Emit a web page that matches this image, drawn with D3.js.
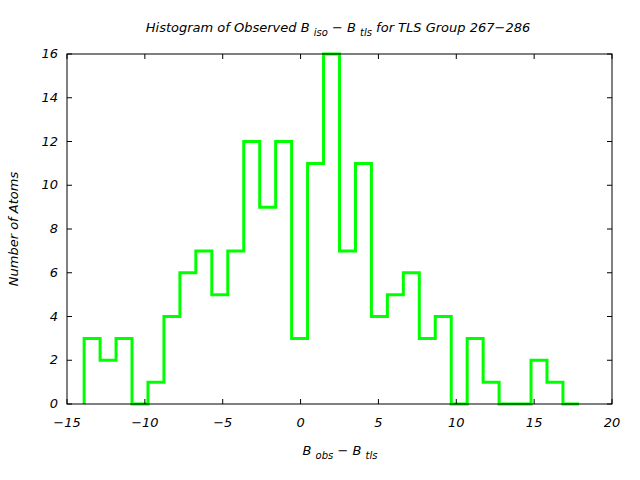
<!DOCTYPE html>
<html><head><meta charset="utf-8">
<script src="https://cdn.jsdelivr.net/npm/d3@7"></script>
<style>body{margin:0;background:#fff;} text{font-family:"DejaVu Sans",sans-serif;font-style:italic;font-size:13px;fill:#000;}</style>
</head><body>
<svg id="c" width="640" height="480"></svg>
<script>
const binStart = -13.9;
const binWidth = 1.025;
const counts = [3,2,3,0,1,4,6,7,5,7,12,9,12,3,11,16,7,11,4,5,6,3,4,0,3,1,0,0,2,1,0];
const xTicks = [-15,-10,-5,0,5,10,15,20];
const yTicks = [0,2,4,6,8,10,12,14,16];

const svg = d3.select("#c");
const L=67, R=612, T=54, B=404;
const x = d3.scaleLinear().domain([-15,20]).range([L,R]);
const y = d3.scaleLinear().domain([0,16]).range([B,T]);

svg.append("rect").attr("x",0).attr("y",0).attr("width",640).attr("height",480).attr("fill","#fff");

const pts = [];
pts.push([binStart,0]);
counts.forEach((c,i)=>{ const a=binStart+i*binWidth, b=a+binWidth; pts.push([a,c]); pts.push([b,c]); });
pts.push([binStart+counts.length*binWidth,0]);
svg.append("path").attr("d", d3.line().x(d=>x(d[0])).y(d=>y(d[1]))(pts))
  .attr("fill","none").attr("stroke","#00ff00").attr("stroke-width",3).attr("stroke-linejoin","miter");

const tl=5;
const g = svg.append("g").attr("stroke","#000").attr("stroke-width",1);
xTicks.forEach(v=>{
  g.append("line").attr("x1",x(v)).attr("x2",x(v)).attr("y1",B).attr("y2",B-tl);
  g.append("line").attr("x1",x(v)).attr("x2",x(v)).attr("y1",T).attr("y2",T+tl);
});
yTicks.forEach(v=>{
  g.append("line").attr("x1",L).attr("x2",L+tl).attr("y1",y(v)).attr("y2",y(v));
  g.append("line").attr("x1",R).attr("x2",R-tl).attr("y1",y(v)).attr("y2",y(v));
});
svg.append("rect").attr("x",L).attr("y",T).attr("width",R-L).attr("height",B-T)
  .attr("fill","none").attr("stroke","#000").attr("stroke-width",1);

const fmt = d => (d<0 ? "\u2212" + Math.abs(d) : String(d));
svg.append("g").selectAll("text").data(xTicks).join("text")
  .attr("x",d=>x(d)).attr("y",B+23).attr("text-anchor","middle").text(fmt);
svg.append("g").selectAll("text").data(yTicks).join("text")
  .attr("x",L-9).attr("y",d=>y(d)+4).attr("text-anchor","end").text(d=>d);

const t = svg.append("text").attr("x",338).attr("y",32).attr("text-anchor","middle").attr("xml:space","preserve");
t.append("tspan").text("Histogram of Observed B ");
t.append("tspan").attr("dy",4).attr("font-size","10px").text("iso");
t.append("tspan").attr("dy",-4).text(" \u2212 B ");
t.append("tspan").attr("dy",4).attr("font-size","10px").text("tls");
t.append("tspan").attr("dy",-4).text(" for TLS Group 267\u2212286");

const xl = svg.append("text").attr("x",340).attr("y",455).attr("text-anchor","middle").attr("xml:space","preserve");
xl.append("tspan").text("B ");
xl.append("tspan").attr("dy",4).attr("font-size","10px").text("obs");
xl.append("tspan").attr("dy",-4).text(" \u2212 B ");
xl.append("tspan").attr("dy",4).attr("font-size","10px").text("tls");

svg.append("text").attr("transform","translate(18,229) rotate(-90)").attr("text-anchor","middle").text("Number of Atoms");
</script>
</body></html>
